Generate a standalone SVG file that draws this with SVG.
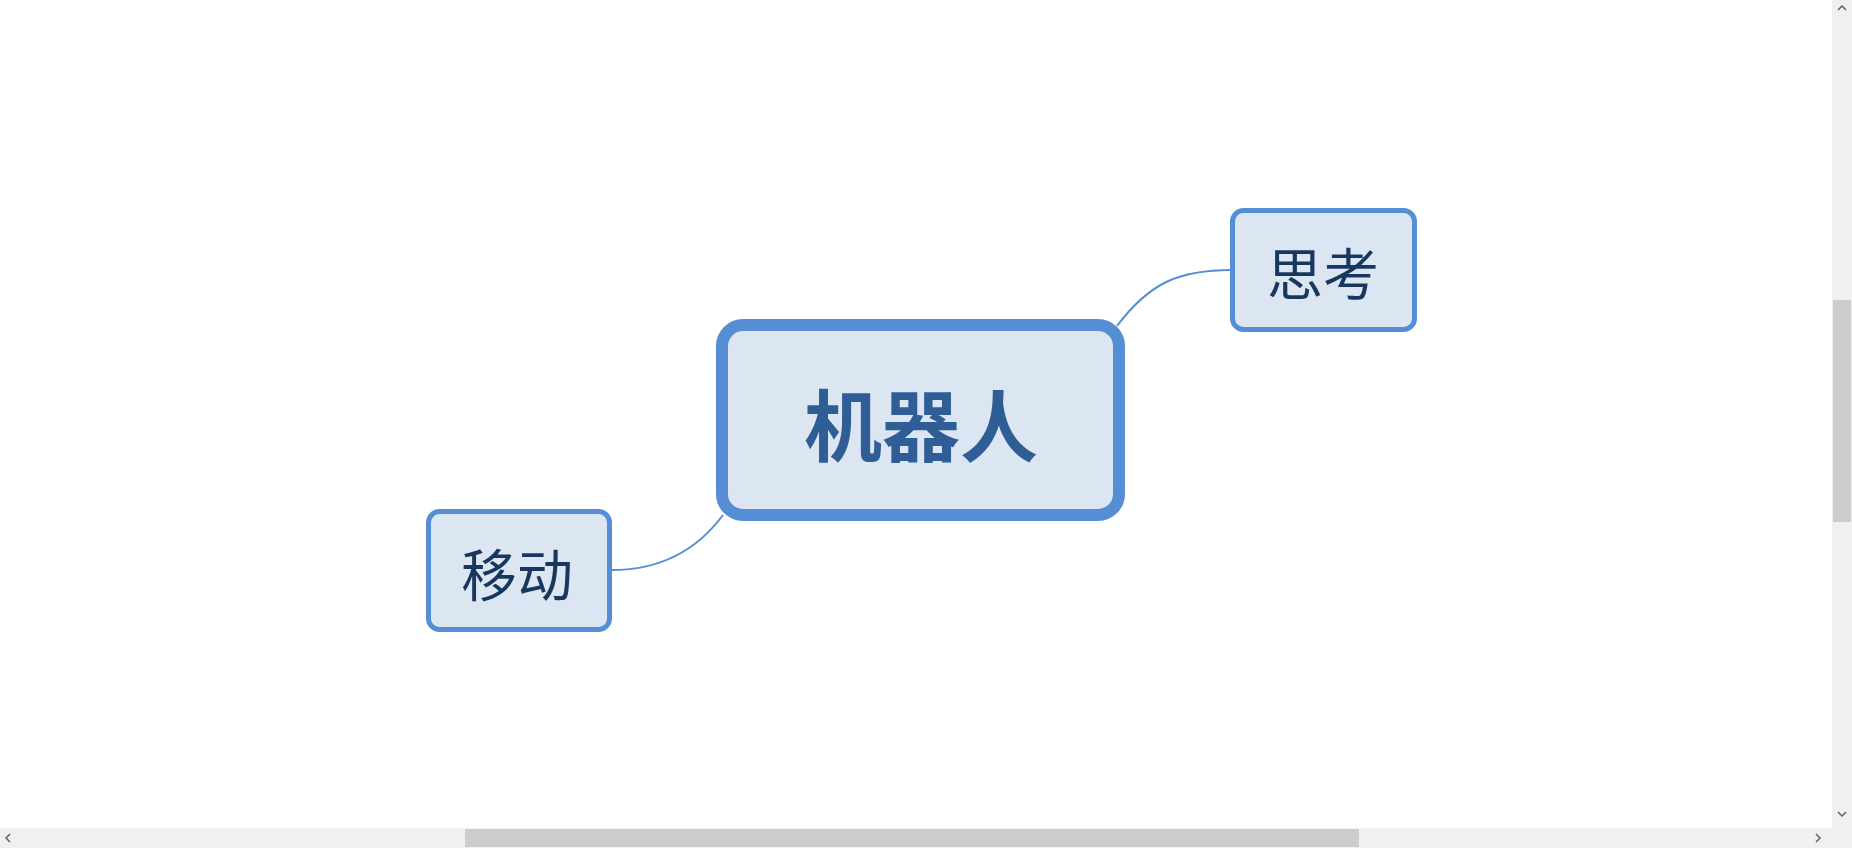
<svg xmlns="http://www.w3.org/2000/svg" width="1852" height="848" viewBox="0 0 1852 848">
<style>
.node{fill:#dce6f2;stroke:#558ed5}
.sub{stroke-width:5}
.t{font-family:"Noto Sans CJK SC","Noto Sans",sans-serif;text-anchor:middle}
.conn{fill:none;stroke:#558ed5;stroke-width:2}
.arrow{fill:none;stroke:#606060;stroke-width:1.5}
</style>
<rect width="1852" height="848" fill="#ffffff"/>
<g id="connectors">
<path class="conn" d="M1117 326 C1150 282 1180 270 1232 270"/>
<path class="conn" d="M612 570 C665 570 700 546 723 515"/>
</g>
<g id="root">
<rect class="node" x="722" y="325" width="397" height="190" rx="21" stroke-width="12"/>
<text class="t" x="921" y="456" font-size="78" font-weight="bold" fill="#2f5e96">机器人</text>
</g>
<g id="think">
<rect class="node sub" x="1232.5" y="210.5" width="182" height="119" rx="11"/>
<text class="t" x="1323" y="295" font-size="56" fill="#17375e">思考</text>
</g>
<g id="move">
<rect class="node sub" x="428.5" y="511.5" width="181" height="118" rx="11"/>
<text class="t" x="517" y="596" font-size="56" fill="#17375e">移动</text>
</g>
<g id="scrollbars">
<rect x="1832" y="0" width="20" height="828" fill="#f0f0f0"/>
<rect x="1833" y="300" width="18" height="222" fill="#cdcdcd"/>
<rect x="0" y="828" width="1852" height="20" fill="#f0f0f0"/>
<rect x="465" y="829" width="894" height="18" fill="#cdcdcd"/>
<path class="arrow" d="M1838 10 L1842 6 L1846 10"/>
<path class="arrow" d="M1838 812 L1842 816 L1846 812"/>
<path class="arrow" d="M10 834 L6 838 L10 842"/>
<path class="arrow" d="M1816 834 L1820 838 L1816 842"/>
</g>
</svg>
